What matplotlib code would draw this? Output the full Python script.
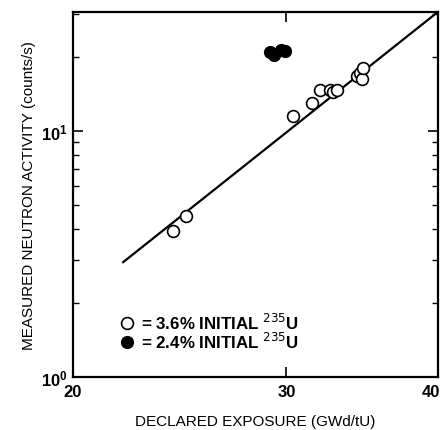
import matplotlib
matplotlib.use("Agg")
import matplotlib.pyplot as plt
import matplotlib.ticker as ticker
import matplotlib.transforms as mtransforms

# ── Data ──────────────────────────────────────────────────────────────────────
open_x = [24.2, 24.8, 30.4, 31.5, 32.0, 32.6, 32.8, 33.0, 34.3, 34.5, 34.6, 34.7]
open_y = [3.92, 4.51, 11.5, 13.0, 14.7, 14.7, 14.4, 14.7, 16.7, 17.2, 16.3, 18.0]

filled_x = [29.1, 29.3, 29.7, 29.9]
filled_y = [21.0, 20.3, 21.4, 21.1]

fit_x = [22.0, 40.0]
fit_y = [2.93, 30.5]

X_TICKS = [20, 30, 40]
# ──────────────────────────────────────────────────────────────────────────────

plt.rcParams["font.family"] = ["Liberation Sans", "DejaVu Sans"]

fig = plt.figure(figsize=(4.45, 4.31), dpi=100)
ax = fig.add_axes([0.164, 0.123, 0.820, 0.847])

ax.plot(fit_x, fit_y, color="black", lw=1.6, zorder=2)
ax.plot(open_x, open_y, "o", ms=8.5, mfc="white", mec="black", mew=1.2,
        ls="none", zorder=3, label="= 3.6% INITIAL $^{235}$U")
ax.plot(filled_x, filled_y, "o", ms=8.5, mfc="black", mec="black",
        ls="none", zorder=3, label="= 2.4% INITIAL $^{235}$U")

ax.set_xscale("log")
ax.set_yscale("log")
ax.set_xlim(20, 40)
ax.set_ylim(1, 30.5)

ax.xaxis.set_major_locator(ticker.FixedLocator(X_TICKS))
ax.xaxis.set_major_formatter(ticker.FixedFormatter([str(v) for v in X_TICKS]))
ax.xaxis.set_minor_locator(ticker.NullLocator())
ax.yaxis.set_major_locator(ticker.LogLocator(base=10))
ax.yaxis.set_minor_locator(ticker.LogLocator(base=10, subs=range(2, 10)))
ax.yaxis.set_minor_formatter(ticker.NullFormatter())

ax.tick_params(which="both", direction="in", top=True, right=True)
ax.tick_params(which="major", length=7, width=1.2, labelsize=12)
ax.tick_params(axis="x", which="major", pad=5)
ax.tick_params(which="minor", length=4, width=1.0)
for lbl in ax.get_xticklabels() + ax.get_yticklabels():
    lbl.set_fontweight("bold")
for sp in ax.spines.values():
    sp.set_linewidth(1.6)

# keep the last x label ("40") inside the figure edge
fig.canvas.draw()
last = ax.get_xticklabels()[-1]
last.set_transform(last.get_transform() +
                   mtransforms.ScaledTranslation(-5 / 72, 0, fig.dpi_scale_trans))

ax.set_xlabel("DECLARED EXPOSURE (GWd/tU)", fontsize=11, labelpad=11)
ax.set_ylabel("MEASURED NEUTRON ACTIVITY (counts/s)", fontsize=11, labelpad=4)

leg = ax.legend(loc="lower left", bbox_to_anchor=(0.105, 0.052), frameon=False,
                fontsize=12.2, handletextpad=0.35, borderaxespad=0,
                labelspacing=-0.05, handlelength=1.0)
for t in leg.get_texts():
    t.set_fontweight("bold")

fig.savefig("out.png", dpi=100)
